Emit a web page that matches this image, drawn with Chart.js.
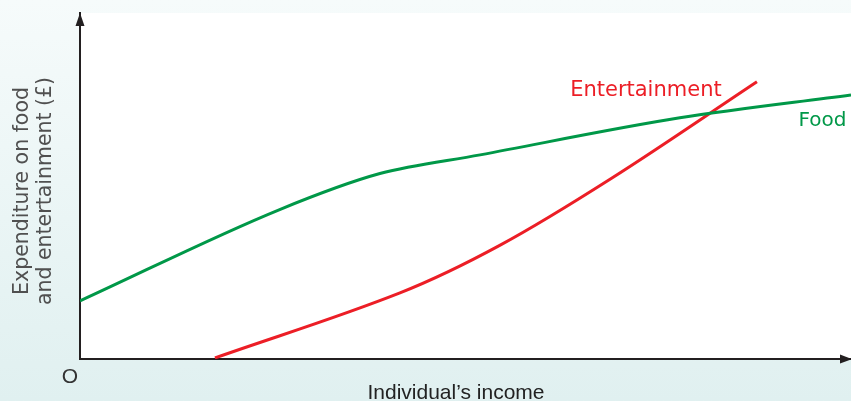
<!DOCTYPE html>
<html>
<head>
<meta charset="utf-8">
<script src="https://cdn.jsdelivr.net/npm/chart.js@4"></script>
<style>
  html, body { margin: 0; padding: 0; background: #eaf5f5; }
  canvas { display: block; }
</style>
</head>
<body>
<canvas id="incomeChart" width="851" height="401"></canvas>
<script>
// income on x (0-100), spending on y (0-100)
const foodIncome = [0, 25.9, 38.9, 51.9, 77.8, 100];
const foodSpend = [16.8, 43.2, 53.6, 59.0, 69.7, 76.3];
const entIncome = [17.5, 41.5, 54.5, 69.0, 87.8];
const entSpend = [0.3, 19.1, 32.9, 52.3, 80.1];

const seriesNames = ['Food', 'Entertainment'];
const yTitle = ['Expenditure on food', 'and entertainment (£)'];
const xTitle = 'Individual\u2019s income';

const green = 'rgb(0, 152, 72)';
const red = 'rgb(236, 30, 38)';
const axisColor = '#231f20';

const toPoints = (xs, ys) => xs.map((x, i) => ({ x: x, y: ys[i] }));

// background, white plot panel, arrows and text
const decorPlugin = {
    id: 'decor',
    beforeDraw(chart) {
        const ctx = chart.ctx;
        const area = chart.chartArea;
        ctx.save();
        const g = ctx.createLinearGradient(0, 0, 0, chart.height);
        g.addColorStop(0, '#f6fbfb');
        g.addColorStop(1, '#e0f0f0');
        ctx.fillStyle = g;
        ctx.fillRect(0, 0, chart.width, chart.height);
        ctx.fillStyle = '#ffffff';
        ctx.fillRect(area.left, area.top, chart.width - area.left, area.bottom - area.top);
        ctx.restore();
    },
    afterDraw(chart) {
        const ctx = chart.ctx;
        const area = chart.chartArea;
        const xs = chart.scales.x;
        const ys = chart.scales.y;
        ctx.save();
        // arrow heads
        ctx.fillStyle = axisColor;
        ctx.beginPath();
        ctx.moveTo(area.left, area.top);
        ctx.lineTo(area.left - 4.5, area.top + 13);
        ctx.lineTo(area.left + 4.5, area.top + 13);
        ctx.closePath();
        ctx.fill();
        ctx.beginPath();
        ctx.moveTo(chart.width + 1, area.bottom);
        ctx.lineTo(chart.width - 11, area.bottom - 4.5);
        ctx.lineTo(chart.width - 11, area.bottom + 4.5);
        ctx.closePath();
        ctx.fill();

        // series labels
        ctx.textAlign = 'center';
        ctx.textBaseline = 'middle';
        ctx.font = '21px "DejaVu Sans"';
        ctx.fillStyle = red;
        ctx.fillText(seriesNames[1], xs.getPixelForValue(73.4), ys.getPixelForValue(77.5));
        ctx.font = '20px "DejaVu Sans"';
        ctx.fillStyle = green;
        ctx.fillText(seriesNames[0], xs.getPixelForValue(96.3), ys.getPixelForValue(68.9));

        // origin
        ctx.font = '21px "Liberation Sans"';
        ctx.fillStyle = '#333333';
        ctx.fillText('O', area.left - 10, area.bottom + 18);

        // x title
        ctx.fillStyle = '#222222';
        ctx.fillText(xTitle, 456, area.bottom + 34);

        // y title
        ctx.translate(34, 191);
        ctx.rotate(-Math.PI / 2);
        ctx.font = '20.5px "DejaVu Sans"';
        ctx.fillStyle = '#505050';
        ctx.fillText(yTitle[0], 0, -11.5);
        ctx.fillText(yTitle[1], 0, 11.5);
        ctx.restore();
    }
};

const ctx = document.getElementById('incomeChart').getContext('2d');
const incomeChart = new Chart(ctx, {
    type: 'line',
    data: {
        datasets: [{
            label: seriesNames[0],
            data: toPoints(foodIncome, foodSpend),
            borderColor: green,
            borderWidth: 3,
            pointRadius: 0,
            cubicInterpolationMode: 'monotone',
            fill: false
        },
        {
            label: seriesNames[1],
            data: toPoints(entIncome, entSpend),
            borderColor: red,
            borderWidth: 3,
            pointRadius: 0,
            tension: 0.35,
            fill: false
        }]
    },
    options: {
        responsive: false,
        animation: false,
        layout: {
            padding: { left: 72, right: 0, top: 13, bottom: 34 }
        },
        plugins: {
            legend: { display: false },
            tooltip: { enabled: false }
        },
        scales: {
            x: {
                type: 'linear',
                min: 0,
                max: 100,
                grid: { display: false },
                ticks: { display: false },
                border: { display: true, color: axisColor, width: 2 }
            },
            y: {
                type: 'linear',
                min: 0,
                max: 100,
                grid: { display: false },
                ticks: { display: false },
                border: { display: true, color: axisColor, width: 2 }
            }
        }
    },
    plugins: [decorPlugin]
});
</script>
</body>
</html>
